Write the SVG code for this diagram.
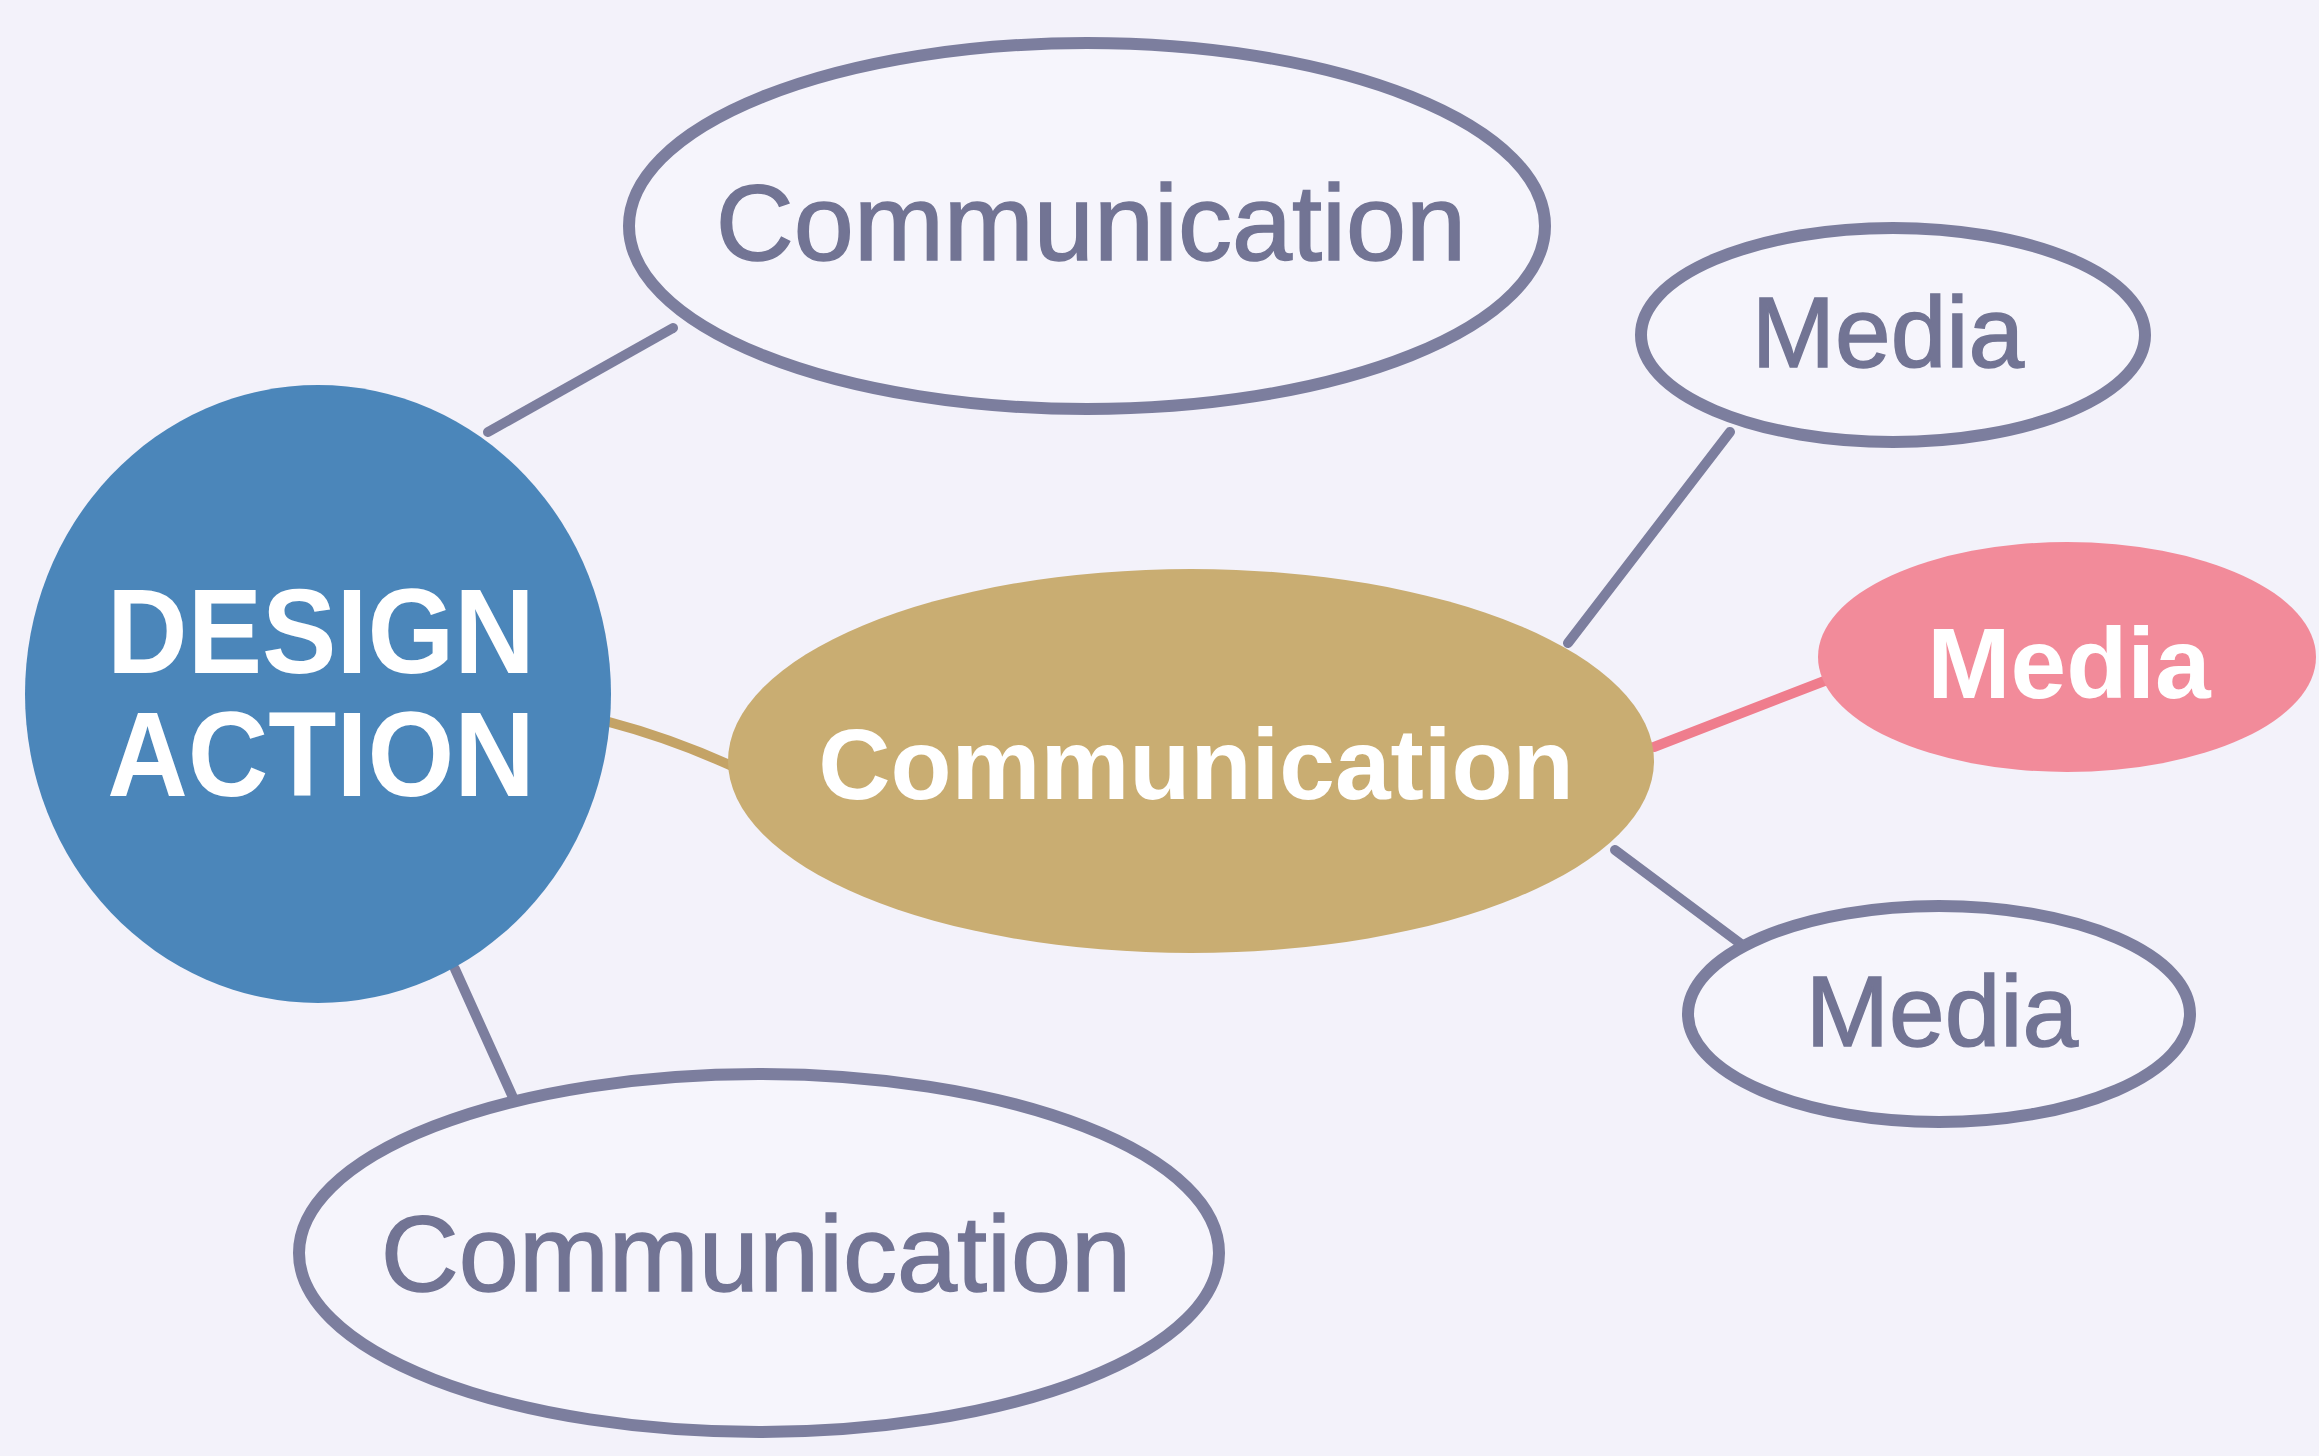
<svg xmlns="http://www.w3.org/2000/svg" width="2319" height="1456" viewBox="0 0 2319 1456">
<style>
.outline{fill:#f6f5fc;stroke:#7c7e9e;stroke-width:12}
.lbl{font-family:"Liberation Sans",Arial,sans-serif;text-anchor:middle}
.dark{fill:#727494;stroke:#727494;stroke-width:1.5}
.white{fill:#ffffff;font-weight:bold}
.conn{stroke:#7c7e9e;stroke-width:10;fill:none;stroke-linecap:round}
</style>
<rect width="2319" height="1456" fill="#f3f2fa"/>
<g id="connectors">
<line class="conn" x1="488" y1="432" x2="673" y2="328"/>
<path class="conn" d="M609 722 Q670 738 732 766" style="stroke:#c4a366"/>
<line class="conn" x1="455" y1="969" x2="515" y2="1102"/>
<line class="conn" x1="1568" y1="643" x2="1730" y2="432"/>
<line class="conn" x1="1654" y1="747" x2="1827" y2="680" style="stroke:#ef7d8d"/>
<line class="conn" x1="1615" y1="850" x2="1745" y2="947"/>
</g>
<g id="design-action">
<ellipse cx="318" cy="694" rx="293" ry="309" fill="#4b86ba"/>
<g transform="translate(321,0) scale(0.93,1)">
<text class="lbl white" x="0" y="673" font-size="120">DESIGN</text>
<text class="lbl white" x="0" y="796" font-size="120">ACTION</text>
</g>
</g>
<g id="communication-top">
<ellipse class="outline" cx="1087" cy="226" rx="458" ry="183"/>
<text class="lbl dark" x="1091" y="260" font-size="108">Communication</text>
</g>
<g id="communication-center">
<ellipse cx="1191" cy="761" rx="463" ry="192" fill="#c9ad72"/>
<text class="lbl white" x="1196" y="799" font-size="100">Communication</text>
</g>
<g id="communication-bottom">
<ellipse class="outline" cx="759" cy="1253" rx="460" ry="179"/>
<text class="lbl dark" x="756" y="1291" font-size="108">Communication</text>
</g>
<g id="media-top">
<ellipse class="outline" cx="1893" cy="335" rx="252" ry="107"/>
<text class="lbl dark" x="1888" y="367" font-size="100">Media</text>
</g>
<g id="media-highlight">
<ellipse cx="2067" cy="657" rx="249" ry="115" fill="#f28b9a"/>
<text class="lbl white" x="2069" y="698" font-size="100">Media</text>
</g>
<g id="media-bottom">
<ellipse class="outline" cx="1939" cy="1014" rx="251" ry="108"/>
<text class="lbl dark" x="1942" y="1046" font-size="100">Media</text>
</g>
</svg>
